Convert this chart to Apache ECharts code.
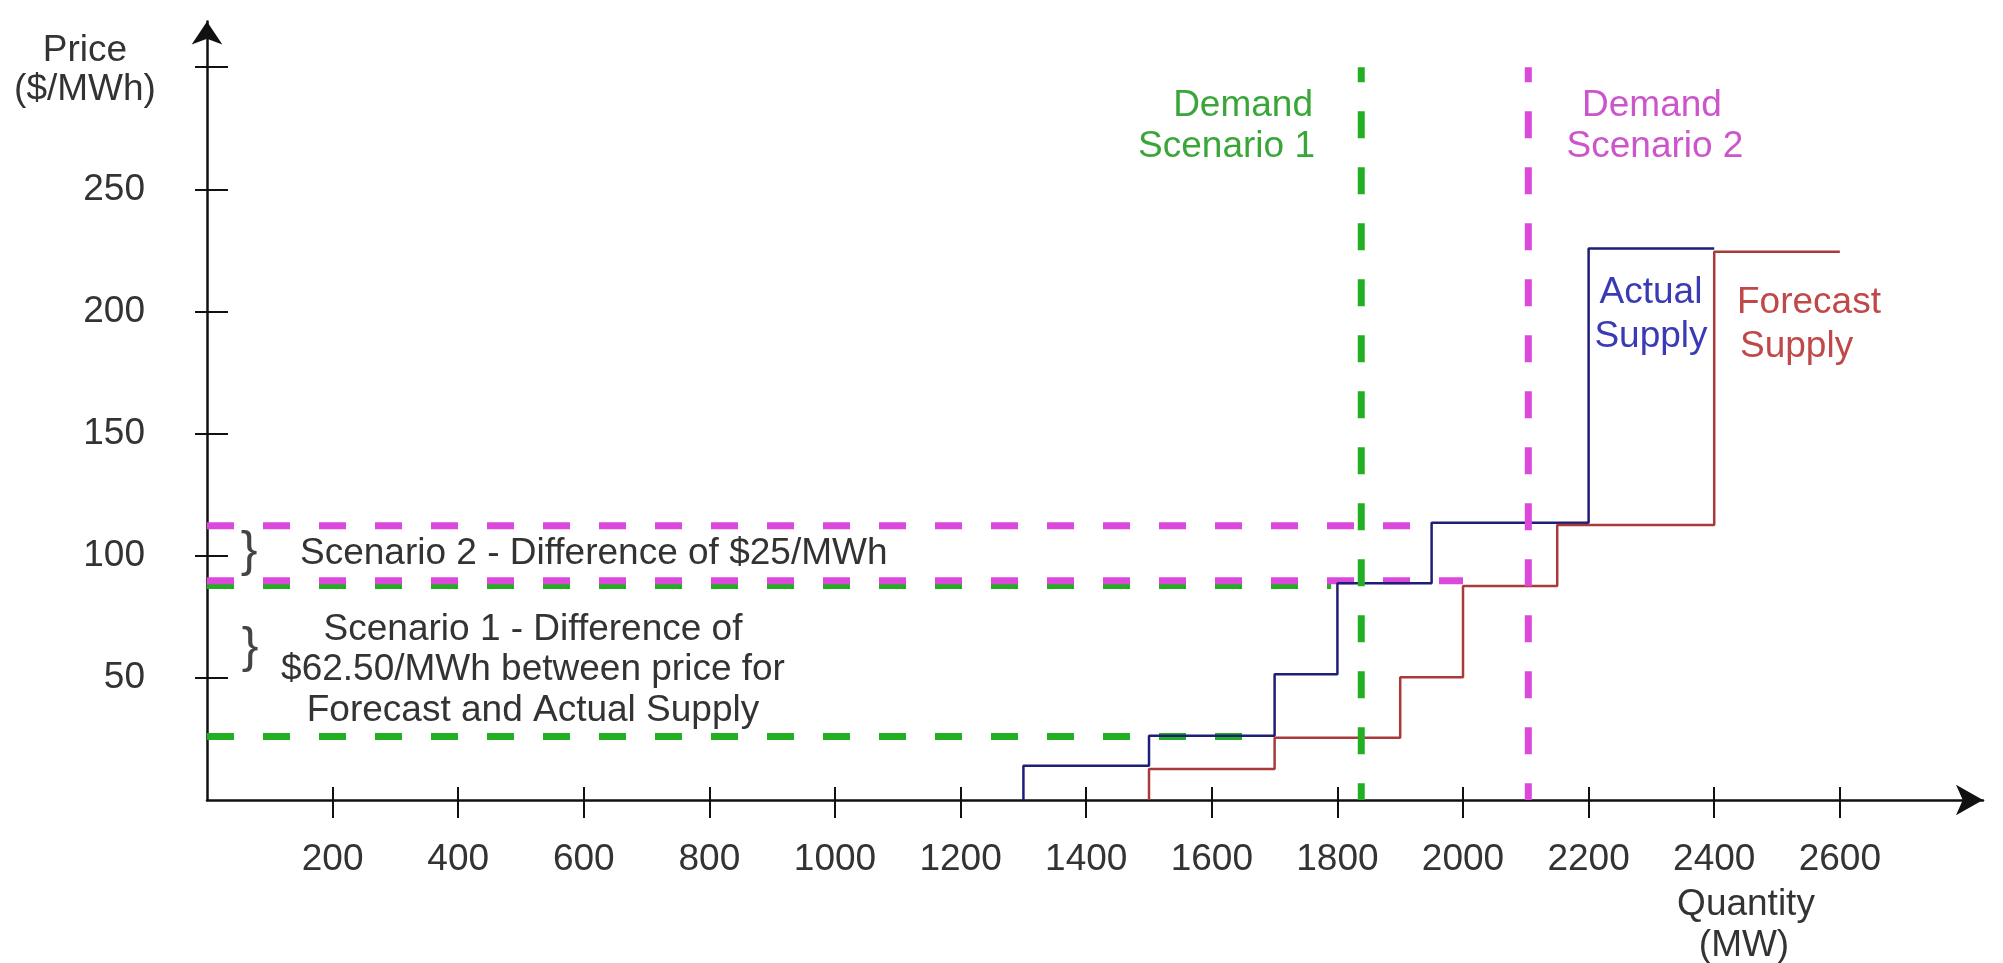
<!DOCTYPE html>
<html>
<head>
<meta charset="utf-8">
<script src="https://cdn.jsdelivr.net/npm/echarts@6/dist/echarts.min.js"></script>
<style>
html,body{margin:0;padding:0;background:#fff;}
#chart{width:2003px;height:963px;}
</style>
</head>
<body>
<div id="chart"></div>
<script>
// ---- data ----
const xTickValues = [200, 400, 600, 800, 1000, 1200, 1400, 1600, 1800, 2000, 2200, 2400, 2600];
const yTickValues = [50, 100, 150, 200, 250, 300];
const yLabelValues = [50, 100, 150, 200, 250];

// Actual Supply: step breakpoints (MW) and price of each step ($/MWh)
const actualQty = [1300, 1500, 1700, 1800, 1950, 2200, 2400];
const actualPrice = [14, 26.3, 51.5, 88.7, 113.5, 225.8];
// Forecast Supply
const forecastQty = [1500, 1700, 1900, 2000, 2150, 2400, 2600];
const forecastPrice = [12.7, 25.5, 50.3, 87.6, 112.6, 224.4];

// Demand scenarios (vertical lines) and their price levels
const demandQty = [1838, 2104];
const demandTop = 300;
const scenario1Prices = [26, 87.8];
const scenario1Ends = [1690, 1790];
const scenario2Prices = [89.8, 112.3];
const scenario2Ends = [2000, 1950];

// ---- build ----
function stepData(q, p) {
  const d = [[q[0], 0]];
  for (let i = 0; i < p.length; i++) {
    d.push([q[i], p[i]]);
    d.push([q[i + 1], p[i]]);
  }
  return d;
}

const FONT = "'Liberation Sans', Arial, sans-serif";
const GREEN = '#22b022';
const MAGENTA = '#dc48dc';
const dash = [27, 29];

function hLine(price, end, color) {
  return {
    type: 'line', symbol: 'none', silent: true, z: 2,
    data: [[0, price], [end, price]],
    lineStyle: { color: color, width: 7, type: dash, cap: 'butt' }
  };
}
function vLine(q, color) {
  return {
    type: 'line', symbol: 'none', silent: true, z: 4,
    data: [[q, demandTop], [q, 0]],
    lineStyle: { color: color, width: 7, type: dash, dashOffset: 12, cap: 'butt' }
  };
}

const series = [
  hLine(scenario1Prices[0], scenario1Ends[0], GREEN),
  hLine(scenario1Prices[1], scenario1Ends[1], GREEN),
  hLine(scenario2Prices[0], scenario2Ends[0], MAGENTA),
  hLine(scenario2Prices[1], scenario2Ends[1], MAGENTA),
  {
    name: 'Actual Supply', type: 'line', symbol: 'none', silent: true, z: 3,
    data: stepData(actualQty, actualPrice),
    lineStyle: { color: '#1e1e78', width: 2.5 }
  },
  {
    name: 'Forecast Supply', type: 'line', symbol: 'none', silent: true, z: 3,
    data: stepData(forecastQty, forecastPrice),
    lineStyle: { color: '#a83a3a', width: 2.5 }
  },
  vLine(demandQty[0], GREEN),
  vLine(demandQty[1], MAGENTA)
];

const axisColor = '#111';
const xMax = 2828, yMax = 318.7;
const plain = function (v) { return String(v); };

function txt(text, x, y, color, align, size) {
  return {
    type: 'text', x: x, y: y, z: 10,
    style: {
      text: text, fontSize: size || 37, fontFamily: FONT, fill: color || '#333',
      align: align || 'center', verticalAlign: 'middle'
    }
  };
}

const option = {
  animation: false,
  backgroundColor: '#fff',
  grid: { left: 207, right: 20, top: 21.5, bottom: 163, containLabel: false },
  xAxis: [
    {
      type: 'value', min: 0, max: xMax, position: 'bottom',
      axisLine: { show: true, lineStyle: { color: axisColor, width: 2.5 }, symbol: ['none', 'arrow'], symbolSize: [23, 27] },
      axisTick: { show: true, inside: false, length: 18, customValues: xTickValues, lineStyle: { color: axisColor, width: 2 } },
      axisLabel: { show: true, customValues: xTickValues, formatter: plain, margin: 41, fontSize: 37, fontFamily: FONT, color: '#333' },
      splitLine: { show: false }
    },
    {
      type: 'value', min: 0, max: xMax, position: 'bottom',
      axisLine: { show: false },
      axisTick: { show: true, inside: true, length: 13, customValues: xTickValues, lineStyle: { color: axisColor, width: 2 } },
      axisLabel: { show: false },
      splitLine: { show: false }
    }
  ],
  yAxis: [
    {
      type: 'value', min: 0, max: yMax, position: 'left',
      axisLine: { show: true, lineStyle: { color: axisColor, width: 2.5 }, symbol: ['none', 'arrow'], symbolSize: [23, 23] },
      axisTick: { show: true, inside: false, length: 12, customValues: yTickValues, lineStyle: { color: axisColor, width: 2 } },
      axisLabel: { show: true, customValues: yLabelValues, formatter: plain, margin: 62, fontSize: 37, fontFamily: FONT, color: '#333' },
      splitLine: { show: false }
    },
    {
      type: 'value', min: 0, max: yMax, position: 'left',
      axisLine: { show: false },
      axisTick: { show: true, inside: true, length: 21, customValues: yTickValues, lineStyle: { color: axisColor, width: 2 } },
      axisLabel: { show: false },
      splitLine: { show: false }
    }
  ],
  series: series,
  graphic: [
    txt('Price', 85, 51),
    txt('($/MWh)', 85, 90),
    txt('Quantity', 1746, 905),
    txt('(MW)', 1744, 946),
    txt('Demand', 1313, 106, '#3aa63a', 'right'),
    txt('Scenario 1', 1315, 147, '#3aa63a', 'right'),
    txt('Demand', 1652, 106, '#cc55cc', 'center'),
    txt('Scenario 2', 1655, 147, '#cc55cc', 'center'),
    txt('Actual', 1651, 293, '#3a3ab4', 'center'),
    txt('Supply', 1651, 337, '#3a3ab4', 'center'),
    txt('Forecast', 1737, 303, '#c04848', 'left'),
    txt('Supply', 1740, 347, '#c04848', 'left'),
    txt('}', 249, 552, '#444', 'center', 50),
    txt('Scenario 2 - Difference of $25/MWh', 300, 554, '#333', 'left'),
    txt('}', 250, 648, '#444', 'center', 50),
    txt('Scenario 1 - Difference of', 533, 630),
    txt('$62.50/MWh between price for', 533, 670),
    txt('Forecast and Actual Supply', 533, 711)
  ]
};

const chart = echarts.init(document.getElementById('chart'), null, { renderer: 'canvas' });
chart.setOption(option);
</script>
</body>
</html>
